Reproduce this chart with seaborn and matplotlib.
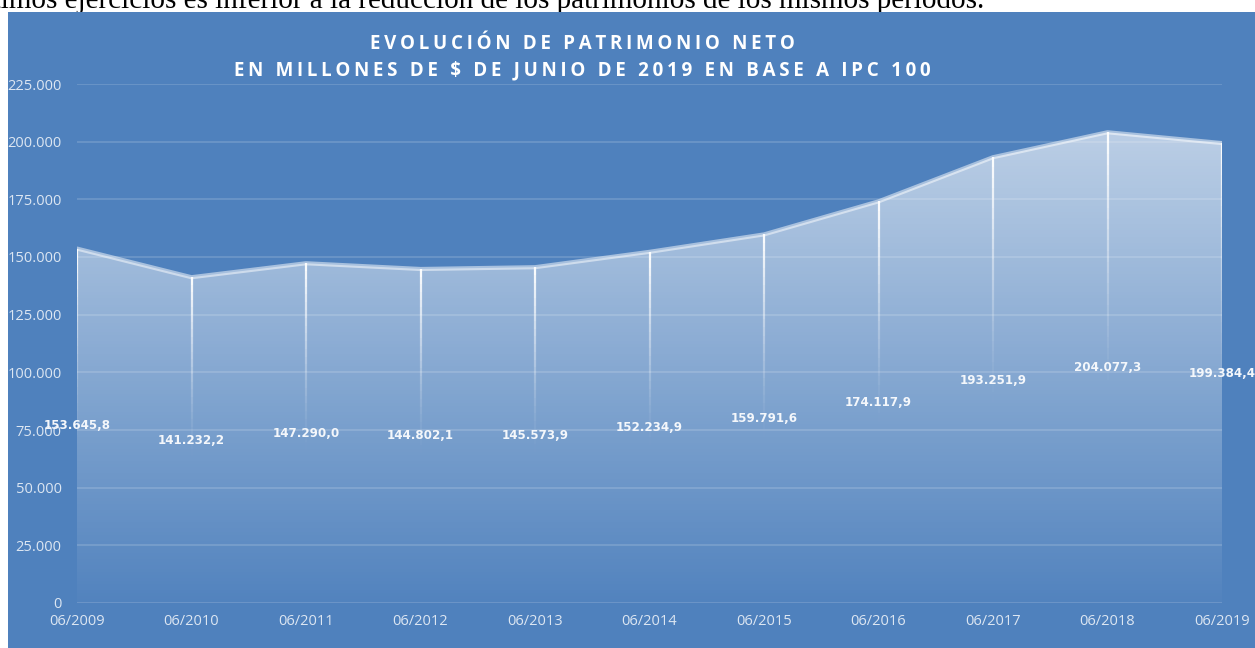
import numpy as np
import pandas as pd
import matplotlib.pyplot as plt
import seaborn as sns
from matplotlib.patches import Rectangle

sns.set_style("white")

# datos (millones de $ de junio de 2019)
fechas = ["06/2009", "06/2010", "06/2011", "06/2012", "06/2013", "06/2014",
          "06/2015", "06/2016", "06/2017", "06/2018", "06/2019"]
patrimonio = [153645.8, 141232.2, 147290.0, 144802.1, 145573.9, 152234.9,
              159791.6, 174117.9, 193251.9, 204077.3, 199384.4]
y_ticks = [0, 25000, 50000, 75000, 100000, 125000, 150000, 175000, 200000, 225000]
titulo = ["EVOLUCIÓN DE PATRIMONIO NETO",
          "EN MILLONES DE $ DE JUNIO DE 2019 EN BASE A IPC 100"]

df = pd.DataFrame({"fecha": fechas, "valor": patrimonio})
df["pos"] = np.arange(len(df))

W, H = 1255, 648
BLUE = "#4f81bd"
TICK_C = "#dce6f2"

fig = plt.figure(figsize=(W / 100, H / 100), dpi=100)
fig.patch.set_facecolor("white")

# texto cortado del documento (queda detras del panel)
fig.text(984 / W, 1 - 7.5 / H,
         "últimos ejercicios es inferior a la reducción de los patrimonios de los mismos períodos.",
         ha="right", va="baseline", fontsize=21, family="Liberation Serif", color="black",
         zorder=-2)
# panel azul
fig.patches.append(Rectangle((8 / W, 0), 1 - 8 / W, 1 - 12 / H, transform=fig.transFigure,
                             facecolor=BLUE, edgecolor="none", zorder=-1))

ax = fig.add_axes([77 / W, 1 - 603 / H, (1222 - 77) / W, (603 - 84) / H])
ax.set_facecolor("none")
ax.set_xlim(0, len(df) - 1)
ax.set_ylim(0, y_ticks[-1])

# relleno con degradado
poly = ax.fill_between(df["pos"], df["valor"], 0, color="none", lw=0)
grad = np.zeros((256, 2, 4))
grad[..., :3] = 1.0
grad[..., 3] = np.linspace(0.68, 0.02, 256)[:, None]
img = ax.imshow(grad, extent=[0, len(df) - 1, 0, y_ticks[-1]], aspect="auto",
                origin="upper", zorder=1)
img.set_clip_path(poly.get_paths()[0], transform=ax.transData)

# lineas verticales que se desvanecen
n_seg = 24
for k in range(n_seg):
    f0 = 0.45 + 0.55 * k / n_seg
    f1 = 0.45 + 0.55 * (k + 1) / n_seg
    a = 0.95 * ((k + 1) / n_seg) ** 1.5
    ax.vlines(df["pos"], df["valor"] * f0, df["valor"] * f1,
              colors=[(1, 1, 1, a)], lw=1.6, zorder=3)

sns.lineplot(data=df, x="pos", y="valor", ax=ax, color="white", lw=3,
             alpha=0.5, zorder=4)

# grilla
for t in y_ticks:
    ax.axhline(t, color="white", alpha=0.16, lw=1.3, zorder=2)

for p, v in zip(df["pos"], df["valor"]):
    lbl = f"{v:,.1f}".replace(",", "X").replace(".", ",").replace("X", ".")
    ax.text(p, v / 2, lbl, ha="center", va="center", fontsize=8.6,
            fontweight="bold", family="DejaVu Sans", color="#f4f7fb", zorder=5,
            clip_on=False)

ax.set_yticks(y_ticks)
ax.set_yticklabels([f"{t:,}".replace(",", ".") for t in y_ticks])
ax.set_xticks(df["pos"])
ax.set_xticklabels(df["fecha"])
ax.tick_params(axis="y", length=0, pad=11, labelsize=10.5, labelcolor=TICK_C)
ax.tick_params(axis="x", length=0, pad=8, labelsize=10.5, labelcolor=TICK_C)
for lab in ax.get_xticklabels() + ax.get_yticklabels():
    lab.set_family("Open Sans")
ax.set_xlabel("")
ax.set_ylabel("")
sns.despine(ax=ax, left=True, bottom=True)

# titulo con espaciado entre letras
for i, linea in enumerate(titulo):
    espaciada = "\u2009".join(linea)
    fig.text(582 / W, 1 - (44 + 26 * i) / H, espaciada, ha="center", va="center",
             fontsize=13.5, fontweight="bold", family=["Open Sans", "DejaVu Sans"],
             color="white")

fig.savefig("out.png", dpi=100)
